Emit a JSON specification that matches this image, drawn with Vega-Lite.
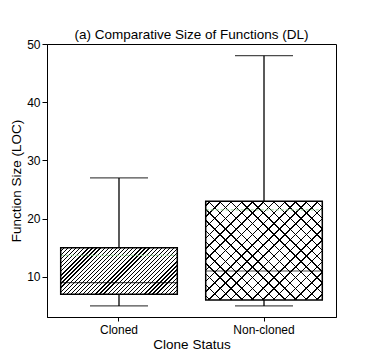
{
  "$schema": "https://vega.github.io/schema/vega-lite/v6.json",
  "width": 289,
  "height": 273,
  "autosize": {"type": "none"},
  "padding": {"left": 47, "top": 44, "right": 38, "bottom": 46},
  "title": {"text": "(a) Comparative Size of Functions (DL)", "fontSize": 13.5, "fontWeight": "normal", "offset": -3, "anchor": "middle", "color": "black", "font": "Liberation Sans"},
  "data": {"values": [
    {"status": "Cloned", "min": 5, "q1": 7, "median": 9, "q3": 15, "max": 27, "mean": 13.7},
    {"status": "Non-cloned", "min": 5, "q1": 6, "median": 11, "q3": 23, "max": 48, "mean": 21.5}
  ]},
  "encoding": {
    "x": {"field": "status", "type": "nominal", "title": "Clone Status",
      "scale": {"paddingInner": 0.196, "paddingOuter": 0.0945},
      "axis": {"labelAngle": 0, "tickSize": 4, "labelPadding": 3, "titlePadding": 2}}
  },
  "layer": [
    {"mark": {"type": "rule", "color": "black", "strokeWidth": 1.3},
     "encoding": {"y": {"field": "min", "type": "quantitative", "title": "Function Size (LOC)",
        "scale": {"domain": [3.1, 50], "nice": false, "zero": false},
        "axis": {"values": [10, 20, 30, 40, 50], "tickSize": 5, "labelPadding": 2, "titlePadding": 3}},
      "y2": {"field": "max"}}},
    {"mark": {"type": "tick", "color": "black", "size": 58, "thickness": 1.3},
     "encoding": {"y": {"field": "min", "type": "quantitative", "title": "Function Size (LOC)"}}},
    {"mark": {"type": "tick", "color": "black", "size": 58, "thickness": 1.3},
     "encoding": {"y": {"field": "max", "type": "quantitative", "title": "Function Size (LOC)"}}},
    {"mark": {"type": "bar", "fill": "white"},
     "encoding": {"y": {"field": "q1", "type": "quantitative", "title": "Function Size (LOC)"}, "y2": {"field": "q3"}}},
    {"transform": [{"filter": "datum.status === 'Cloned'"}],
     "mark": {"type": "bar", "fill": {"gradient": "linear", "x1": 0, "y1": 0, "x2": 1.2077, "y2": 0.4823, "stops": [
      {"offset":0,"color":"#fff"},
      {"offset":0.017,"color":"#fff"},{"offset":0.017,"color":"#000"},{"offset":0.025,"color":"#000"},{"offset":0.025,"color":"#fff"},
      {"offset":0.042,"color":"#fff"},{"offset":0.042,"color":"#000"},{"offset":0.05,"color":"#000"},{"offset":0.05,"color":"#fff"},
      {"offset":0.067,"color":"#fff"},{"offset":0.067,"color":"#000"},{"offset":0.075,"color":"#000"},{"offset":0.075,"color":"#fff"},
      {"offset":0.092,"color":"#fff"},{"offset":0.092,"color":"#000"},{"offset":0.1,"color":"#000"},{"offset":0.1,"color":"#fff"},
      {"offset":0.117,"color":"#fff"},{"offset":0.117,"color":"#000"},{"offset":0.125,"color":"#000"},{"offset":0.125,"color":"#fff"},
      {"offset":0.142,"color":"#fff"},{"offset":0.142,"color":"#000"},{"offset":0.15,"color":"#000"},{"offset":0.15,"color":"#fff"},
      {"offset":0.167,"color":"#fff"},{"offset":0.167,"color":"#000"},{"offset":0.175,"color":"#000"},{"offset":0.175,"color":"#fff"},
      {"offset":0.192,"color":"#fff"},{"offset":0.192,"color":"#000"},{"offset":0.2,"color":"#000"},{"offset":0.2,"color":"#fff"},
      {"offset":0.217,"color":"#fff"},{"offset":0.217,"color":"#000"},{"offset":0.225,"color":"#000"},{"offset":0.225,"color":"#fff"},
      {"offset":0.242,"color":"#fff"},{"offset":0.242,"color":"#000"},{"offset":0.25,"color":"#000"},{"offset":0.25,"color":"#fff"},
      {"offset":0.267,"color":"#fff"},{"offset":0.267,"color":"#000"},{"offset":0.275,"color":"#000"},{"offset":0.275,"color":"#fff"},
      {"offset":0.292,"color":"#fff"},{"offset":0.292,"color":"#000"},{"offset":0.3,"color":"#000"},{"offset":0.3,"color":"#fff"},
      {"offset":0.317,"color":"#fff"},{"offset":0.317,"color":"#000"},{"offset":0.325,"color":"#000"},{"offset":0.325,"color":"#fff"},
      {"offset":0.342,"color":"#fff"},{"offset":0.342,"color":"#000"},{"offset":0.35,"color":"#000"},{"offset":0.35,"color":"#fff"},
      {"offset":0.367,"color":"#fff"},{"offset":0.367,"color":"#000"},{"offset":0.375,"color":"#000"},{"offset":0.375,"color":"#fff"},
      {"offset":0.392,"color":"#fff"},{"offset":0.392,"color":"#000"},{"offset":0.4,"color":"#000"},{"offset":0.4,"color":"#fff"},
      {"offset":0.417,"color":"#fff"},{"offset":0.417,"color":"#000"},{"offset":0.425,"color":"#000"},{"offset":0.425,"color":"#fff"},
      {"offset":0.442,"color":"#fff"},{"offset":0.442,"color":"#000"},{"offset":0.45,"color":"#000"},{"offset":0.45,"color":"#fff"},
      {"offset":0.467,"color":"#fff"},{"offset":0.467,"color":"#000"},{"offset":0.475,"color":"#000"},{"offset":0.475,"color":"#fff"},
      {"offset":0.492,"color":"#fff"},{"offset":0.492,"color":"#000"},{"offset":0.5,"color":"#000"},{"offset":0.5,"color":"#fff"},
      {"offset":0.517,"color":"#fff"},{"offset":0.517,"color":"#000"},{"offset":0.525,"color":"#000"},{"offset":0.525,"color":"#fff"},
      {"offset":0.542,"color":"#fff"},{"offset":0.542,"color":"#000"},{"offset":0.55,"color":"#000"},{"offset":0.55,"color":"#fff"},
      {"offset":0.567,"color":"#fff"},{"offset":0.567,"color":"#000"},{"offset":0.575,"color":"#000"},{"offset":0.575,"color":"#fff"},
      {"offset":0.592,"color":"#fff"},{"offset":0.592,"color":"#000"},{"offset":0.6,"color":"#000"},{"offset":0.6,"color":"#fff"},
      {"offset":0.617,"color":"#fff"},{"offset":0.617,"color":"#000"},{"offset":0.625,"color":"#000"},{"offset":0.625,"color":"#fff"},
      {"offset":0.642,"color":"#fff"},{"offset":0.642,"color":"#000"},{"offset":0.65,"color":"#000"},{"offset":0.65,"color":"#fff"},
      {"offset":0.667,"color":"#fff"},{"offset":0.667,"color":"#000"},{"offset":0.675,"color":"#000"},{"offset":0.675,"color":"#fff"},
      {"offset":0.692,"color":"#fff"},{"offset":0.692,"color":"#000"},{"offset":0.7,"color":"#000"},{"offset":0.7,"color":"#fff"},
      {"offset":0.717,"color":"#fff"},{"offset":0.717,"color":"#000"},{"offset":0.725,"color":"#000"},{"offset":0.725,"color":"#fff"},
      {"offset":0.742,"color":"#fff"},{"offset":0.742,"color":"#000"},{"offset":0.75,"color":"#000"},{"offset":0.75,"color":"#fff"},
      {"offset":0.767,"color":"#fff"},{"offset":0.767,"color":"#000"},{"offset":0.775,"color":"#000"},{"offset":0.775,"color":"#fff"},
      {"offset":0.792,"color":"#fff"},{"offset":0.792,"color":"#000"},{"offset":0.8,"color":"#000"},{"offset":0.8,"color":"#fff"},
      {"offset":0.817,"color":"#fff"},{"offset":0.817,"color":"#000"},{"offset":0.825,"color":"#000"},{"offset":0.825,"color":"#fff"},
      {"offset":0.842,"color":"#fff"},{"offset":0.842,"color":"#000"},{"offset":0.85,"color":"#000"},{"offset":0.85,"color":"#fff"},
      {"offset":0.867,"color":"#fff"},{"offset":0.867,"color":"#000"},{"offset":0.875,"color":"#000"},{"offset":0.875,"color":"#fff"},
      {"offset":0.892,"color":"#fff"},{"offset":0.892,"color":"#000"},{"offset":0.9,"color":"#000"},{"offset":0.9,"color":"#fff"},
      {"offset":0.917,"color":"#fff"},{"offset":0.917,"color":"#000"},{"offset":0.925,"color":"#000"},{"offset":0.925,"color":"#fff"},
      {"offset":0.942,"color":"#fff"},{"offset":0.942,"color":"#000"},{"offset":0.95,"color":"#000"},{"offset":0.95,"color":"#fff"},
      {"offset":0.967,"color":"#fff"},{"offset":0.967,"color":"#000"},{"offset":0.975,"color":"#000"},{"offset":0.975,"color":"#fff"},
      {"offset":0.992,"color":"#fff"},{"offset":0.992,"color":"#000"},{"offset":1,"color":"#000"}
     ]}},
     "encoding": {"y": {"field": "q1", "type": "quantitative", "title": "Function Size (LOC)"}, "y2": {"field": "q3"}}},
    {"transform": [{"filter": "datum.status === 'Non-cloned'"}],
     "mark": {"type": "bar", "fill": {"gradient": "linear", "x1": 0, "y1": 0, "x2": 1.0746, "y2": 0.912, "stops": [
      {"offset":0,"color":"rgba(0,0,0,0)"},
      {"offset":0.018,"color":"rgba(0,0,0,0)"},{"offset":0.018,"color":"#000"},{"offset":0.025,"color":"#000"},{"offset":0.025,"color":"rgba(0,0,0,0)"},
      {"offset":0.068,"color":"rgba(0,0,0,0)"},{"offset":0.068,"color":"#000"},{"offset":0.075,"color":"#000"},{"offset":0.075,"color":"rgba(0,0,0,0)"},
      {"offset":0.118,"color":"rgba(0,0,0,0)"},{"offset":0.118,"color":"#000"},{"offset":0.125,"color":"#000"},{"offset":0.125,"color":"rgba(0,0,0,0)"},
      {"offset":0.168,"color":"rgba(0,0,0,0)"},{"offset":0.168,"color":"#000"},{"offset":0.175,"color":"#000"},{"offset":0.175,"color":"rgba(0,0,0,0)"},
      {"offset":0.218,"color":"rgba(0,0,0,0)"},{"offset":0.218,"color":"#000"},{"offset":0.225,"color":"#000"},{"offset":0.225,"color":"rgba(0,0,0,0)"},
      {"offset":0.268,"color":"rgba(0,0,0,0)"},{"offset":0.268,"color":"#000"},{"offset":0.275,"color":"#000"},{"offset":0.275,"color":"rgba(0,0,0,0)"},
      {"offset":0.318,"color":"rgba(0,0,0,0)"},{"offset":0.318,"color":"#000"},{"offset":0.325,"color":"#000"},{"offset":0.325,"color":"rgba(0,0,0,0)"},
      {"offset":0.368,"color":"rgba(0,0,0,0)"},{"offset":0.368,"color":"#000"},{"offset":0.375,"color":"#000"},{"offset":0.375,"color":"rgba(0,0,0,0)"},
      {"offset":0.418,"color":"rgba(0,0,0,0)"},{"offset":0.418,"color":"#000"},{"offset":0.425,"color":"#000"},{"offset":0.425,"color":"rgba(0,0,0,0)"},
      {"offset":0.468,"color":"rgba(0,0,0,0)"},{"offset":0.468,"color":"#000"},{"offset":0.475,"color":"#000"},{"offset":0.475,"color":"rgba(0,0,0,0)"},
      {"offset":0.518,"color":"rgba(0,0,0,0)"},{"offset":0.518,"color":"#000"},{"offset":0.525,"color":"#000"},{"offset":0.525,"color":"rgba(0,0,0,0)"},
      {"offset":0.568,"color":"rgba(0,0,0,0)"},{"offset":0.568,"color":"#000"},{"offset":0.575,"color":"#000"},{"offset":0.575,"color":"rgba(0,0,0,0)"},
      {"offset":0.618,"color":"rgba(0,0,0,0)"},{"offset":0.618,"color":"#000"},{"offset":0.625,"color":"#000"},{"offset":0.625,"color":"rgba(0,0,0,0)"},
      {"offset":0.668,"color":"rgba(0,0,0,0)"},{"offset":0.668,"color":"#000"},{"offset":0.675,"color":"#000"},{"offset":0.675,"color":"rgba(0,0,0,0)"},
      {"offset":0.718,"color":"rgba(0,0,0,0)"},{"offset":0.718,"color":"#000"},{"offset":0.725,"color":"#000"},{"offset":0.725,"color":"rgba(0,0,0,0)"},
      {"offset":0.768,"color":"rgba(0,0,0,0)"},{"offset":0.768,"color":"#000"},{"offset":0.775,"color":"#000"},{"offset":0.775,"color":"rgba(0,0,0,0)"},
      {"offset":0.818,"color":"rgba(0,0,0,0)"},{"offset":0.818,"color":"#000"},{"offset":0.825,"color":"#000"},{"offset":0.825,"color":"rgba(0,0,0,0)"},
      {"offset":0.868,"color":"rgba(0,0,0,0)"},{"offset":0.868,"color":"#000"},{"offset":0.875,"color":"#000"},{"offset":0.875,"color":"rgba(0,0,0,0)"},
      {"offset":0.918,"color":"rgba(0,0,0,0)"},{"offset":0.918,"color":"#000"},{"offset":0.925,"color":"#000"},{"offset":0.925,"color":"rgba(0,0,0,0)"},
      {"offset":0.968,"color":"rgba(0,0,0,0)"},{"offset":0.968,"color":"#000"},{"offset":0.975,"color":"#000"},{"offset":0.975,"color":"rgba(0,0,0,0)"},
      {"offset":1,"color":"rgba(0,0,0,0)"}
     ]}},
     "encoding": {"y": {"field": "q1", "type": "quantitative", "title": "Function Size (LOC)"}, "y2": {"field": "q3"}}},
    {"transform": [{"filter": "datum.status === 'Non-cloned'"}],
     "mark": {"type": "bar", "fill": {"gradient": "linear", "x1": 0, "y1": 1, "x2": 1.0746, "y2": 0.088, "stops": [
      {"offset":0,"color":"rgba(0,0,0,0)"},
      {"offset":0.018,"color":"rgba(0,0,0,0)"},{"offset":0.018,"color":"#000"},{"offset":0.025,"color":"#000"},{"offset":0.025,"color":"rgba(0,0,0,0)"},
      {"offset":0.068,"color":"rgba(0,0,0,0)"},{"offset":0.068,"color":"#000"},{"offset":0.075,"color":"#000"},{"offset":0.075,"color":"rgba(0,0,0,0)"},
      {"offset":0.118,"color":"rgba(0,0,0,0)"},{"offset":0.118,"color":"#000"},{"offset":0.125,"color":"#000"},{"offset":0.125,"color":"rgba(0,0,0,0)"},
      {"offset":0.168,"color":"rgba(0,0,0,0)"},{"offset":0.168,"color":"#000"},{"offset":0.175,"color":"#000"},{"offset":0.175,"color":"rgba(0,0,0,0)"},
      {"offset":0.218,"color":"rgba(0,0,0,0)"},{"offset":0.218,"color":"#000"},{"offset":0.225,"color":"#000"},{"offset":0.225,"color":"rgba(0,0,0,0)"},
      {"offset":0.268,"color":"rgba(0,0,0,0)"},{"offset":0.268,"color":"#000"},{"offset":0.275,"color":"#000"},{"offset":0.275,"color":"rgba(0,0,0,0)"},
      {"offset":0.318,"color":"rgba(0,0,0,0)"},{"offset":0.318,"color":"#000"},{"offset":0.325,"color":"#000"},{"offset":0.325,"color":"rgba(0,0,0,0)"},
      {"offset":0.368,"color":"rgba(0,0,0,0)"},{"offset":0.368,"color":"#000"},{"offset":0.375,"color":"#000"},{"offset":0.375,"color":"rgba(0,0,0,0)"},
      {"offset":0.418,"color":"rgba(0,0,0,0)"},{"offset":0.418,"color":"#000"},{"offset":0.425,"color":"#000"},{"offset":0.425,"color":"rgba(0,0,0,0)"},
      {"offset":0.468,"color":"rgba(0,0,0,0)"},{"offset":0.468,"color":"#000"},{"offset":0.475,"color":"#000"},{"offset":0.475,"color":"rgba(0,0,0,0)"},
      {"offset":0.518,"color":"rgba(0,0,0,0)"},{"offset":0.518,"color":"#000"},{"offset":0.525,"color":"#000"},{"offset":0.525,"color":"rgba(0,0,0,0)"},
      {"offset":0.568,"color":"rgba(0,0,0,0)"},{"offset":0.568,"color":"#000"},{"offset":0.575,"color":"#000"},{"offset":0.575,"color":"rgba(0,0,0,0)"},
      {"offset":0.618,"color":"rgba(0,0,0,0)"},{"offset":0.618,"color":"#000"},{"offset":0.625,"color":"#000"},{"offset":0.625,"color":"rgba(0,0,0,0)"},
      {"offset":0.668,"color":"rgba(0,0,0,0)"},{"offset":0.668,"color":"#000"},{"offset":0.675,"color":"#000"},{"offset":0.675,"color":"rgba(0,0,0,0)"},
      {"offset":0.718,"color":"rgba(0,0,0,0)"},{"offset":0.718,"color":"#000"},{"offset":0.725,"color":"#000"},{"offset":0.725,"color":"rgba(0,0,0,0)"},
      {"offset":0.768,"color":"rgba(0,0,0,0)"},{"offset":0.768,"color":"#000"},{"offset":0.775,"color":"#000"},{"offset":0.775,"color":"rgba(0,0,0,0)"},
      {"offset":0.818,"color":"rgba(0,0,0,0)"},{"offset":0.818,"color":"#000"},{"offset":0.825,"color":"#000"},{"offset":0.825,"color":"rgba(0,0,0,0)"},
      {"offset":0.868,"color":"rgba(0,0,0,0)"},{"offset":0.868,"color":"#000"},{"offset":0.875,"color":"#000"},{"offset":0.875,"color":"rgba(0,0,0,0)"},
      {"offset":0.918,"color":"rgba(0,0,0,0)"},{"offset":0.918,"color":"#000"},{"offset":0.925,"color":"#000"},{"offset":0.925,"color":"rgba(0,0,0,0)"},
      {"offset":0.968,"color":"rgba(0,0,0,0)"},{"offset":0.968,"color":"#000"},{"offset":0.975,"color":"#000"},{"offset":0.975,"color":"rgba(0,0,0,0)"},
      {"offset":1,"color":"rgba(0,0,0,0)"}
     ]}},
     "encoding": {"y": {"field": "q1", "type": "quantitative", "title": "Function Size (LOC)"}, "y2": {"field": "q3"}}},
    {"mark": {"type": "rule", "color": "#8fcf8f", "strokeWidth": 1, "strokeDash": [3, 2]},
     "encoding": {"x": {"field": "status", "type": "nominal", "bandPosition": 0},
      "x2": {"field": "status", "bandPosition": 1},
      "y": {"field": "mean", "type": "quantitative", "title": "Function Size (LOC)"}}},
    {"mark": {"type": "bar", "fillOpacity": 0, "stroke": "black", "strokeWidth": 1.5},
     "encoding": {"y": {"field": "q1", "type": "quantitative", "title": "Function Size (LOC)"}, "y2": {"field": "q3"}}},
    {"mark": {"type": "tick", "color": "black", "size": 117, "thickness": 1.2},
     "encoding": {"y": {"field": "median", "type": "quantitative", "title": "Function Size (LOC)"}}}
  ],
  "config": {
    "font": "Liberation Sans",
    "view": {"stroke": "black", "strokeWidth": 1},
    "axis": {"grid": false, "domainColor": "black", "tickColor": "black", "labelColor": "black", "titleColor": "black",
      "labelFontSize": 12, "titleFontSize": 13.5, "titleFontWeight": "normal", "labelFont": "Liberation Sans", "titleFont": "Liberation Sans"}
  }
}
